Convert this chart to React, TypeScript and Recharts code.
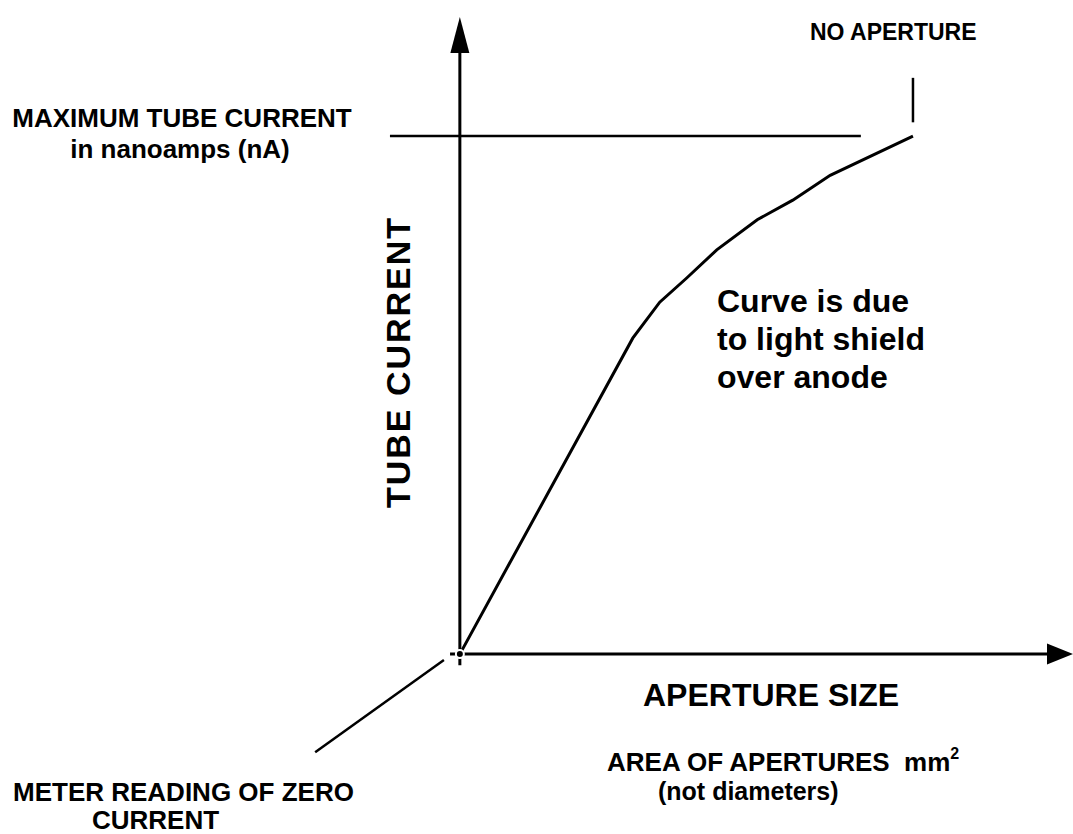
import {
  ComposedChart,
  Line,
  XAxis,
  YAxis,
  ReferenceLine,
  ReferenceDot,
  Customized,
} from "recharts";

// aperture area (arbitrary units) vs tube current (arbitrary units)
const apertureArea = [0, 28.2, 32.6, 37.0, 41.9, 48.5, 54.3, 60.4, 73.9];
const tubeCurrent = [0, 48.3, 53.8, 57.5, 61.8, 66.4, 69.4, 73.2, 79.2];

const maxCurrent = 79.2;
const noApertureArea = 73.9;

const curveData = apertureArea.map((area, i) => ({ area, current: tubeCurrent[i] }));

const FONT = "'Liberation Sans', Arial, Helvetica, sans-serif";

const ArrowUp = (props: any) => {
  const { cx, cy } = props;
  return <path d={`M${cx},${cy} L${cx - 9.5},${cy + 36} L${cx + 9.5},${cy + 36} Z`} fill="#000" />;
};

const ArrowRight = (props: any) => {
  const { cx, cy } = props;
  return <path d={`M${cx},${cy} L${cx - 26},${cy - 10.5} L${cx - 26},${cy + 10.5} Z`} fill="#000" />;
};

// text annotations of the sketch
const Annotations = () => (
  <g fontFamily={FONT} fontWeight="bold" fill="#000">
    <text x={810} y={40} fontSize={23}>NO APERTURE</text>
    <text x={182} y={127} fontSize={26} textAnchor="middle">MAXIMUM TUBE CURRENT</text>
    <text x={180} y={158} fontSize={26} textAnchor="middle">in nanoamps (nA)</text>
    <text
      x={410}
      y={362}
      fontSize={34}
      letterSpacing={2}
      textAnchor="middle"
      transform="rotate(-90, 410, 362)"
    >
      TUBE CURRENT
    </text>
    <text x={717} y={312} fontSize={32}>Curve is due</text>
    <text x={717} y={350} fontSize={32}>to light shield</text>
    <text x={717} y={388} fontSize={32}>over anode</text>
    <text x={643} y={706} fontSize={32}>APERTURE SIZE</text>
    <text x={607} y={771} fontSize={26} xmlSpace="preserve">
      AREA OF APERTURES  mm
      <tspan fontSize={16} dy={-12}>2</tspan>
    </text>
    <text x={658} y={800} fontSize={25}>(not diameters)</text>
    <text x={13} y={801} fontSize={26}>METER READING OF ZERO</text>
    <text x={92} y={829} fontSize={26}>CURRENT</text>
  </g>
);

export default function App() {
  return (
    <div style={{ position: "absolute", left: 0, top: 0, background: "#fff" }}>
      <ComposedChart
        width={1073}
        height={834}
        data={curveData}
        margin={{ top: 0, right: 0, bottom: 0, left: 0 }}
      >
        <XAxis type="number" dataKey="area" domain={[-75, 100]} hide />
        <YAxis type="number" domain={[-27.5, 100]} hide />

        {/* axes */}
        <ReferenceLine segment={[{ x: 0, y: -1.7 }, { x: 0, y: 92 }]} stroke="#000" strokeWidth={3} />
        <ReferenceLine segment={[{ x: -1.6, y: 0 }, { x: 96, y: 0 }]} stroke="#000" strokeWidth={3} />
        <ReferenceDot x={0} y={97.4} r={0} shape={ArrowUp} />
        <ReferenceDot x={100} y={0} r={0} shape={ArrowRight} />

        {/* maximum current line and no-aperture marker */}
        <ReferenceLine segment={[{ x: -11.4, y: maxCurrent }, { x: 65.4, y: maxCurrent }]} stroke="#000" strokeWidth={2.5} />
        <ReferenceLine segment={[{ x: noApertureArea, y: 81.3 }, { x: noApertureArea, y: 88.1 }]} stroke="#000" strokeWidth={2.5} />

        {/* leader to zero-current label */}
        <ReferenceLine segment={[{ x: -2.6, y: -0.9 }, { x: -23.6, y: -15 }]} stroke="#000" strokeWidth={2.5} />

        <Line
          type="linear"
          dataKey="current"
          stroke="#000"
          strokeWidth={3}
          dot={false}
          isAnimationActive={false}
        />
        <Customized component={Annotations} />
      </ComposedChart>
    </div>
  );
}
